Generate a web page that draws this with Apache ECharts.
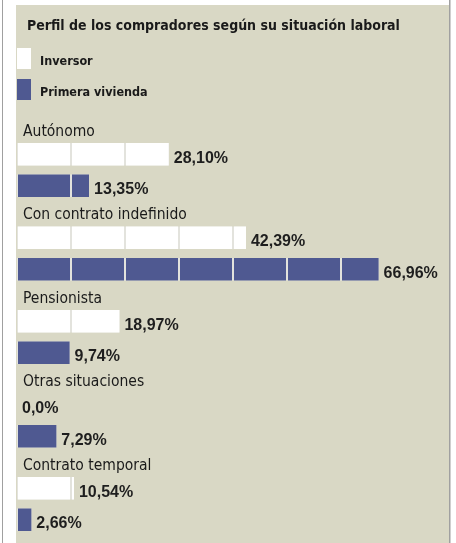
<!DOCTYPE html>
<html>
<head>
<meta charset="utf-8">
<style>
html,body{margin:0;padding:0;background:#ffffff;}
#chart{width:456px;height:543px;}
</style>
<script src="https://cdn.jsdelivr.net/npm/echarts@6/dist/echarts.min.js"></script>
</head>
<body>
<div id="chart"></div>
<script>
// ---- data ----
var titleText = 'Perfil de los compradores según su situación laboral';
var categories = ['Autónomo', 'Con contrato indefinido', 'Pensionista', 'Otras situaciones', 'Contrato temporal'];
var seriesNames = ['Inversor', 'Primera vivienda'];
var inversorValues = [28.10, 42.39, 18.97, 0.0, 10.54];
var primeraValues = [13.35, 66.96, 9.74, 7.29, 2.66];
var inversorLabels = ['28,10%', '42,39%', '18,97%', '0,0%', '10,54%'];
var primeraLabels = ['13,35%', '66,96%', '9,74%', '7,29%', '2,66%'];
var axisMax = 80;
var segmentsInMax = 8;

var BG = '#d9d8c5';
var BLUE = '#4f5991';
var GAP = '#e3e3dd';
var NARROW = "'Liberation Sans Narrow','DejaVu Sans Condensed',sans-serif";
var WIDE = "'Liberation Sans','DejaVu Sans',sans-serif";

var chart = echarts.init(document.getElementById('chart'), null, {renderer: 'canvas'});

function baseSeries(name, values, labels) {
  return {
    name: name,
    type: 'bar',
    data: values,
    barWidth: 22.5,
    barGap: '40%',
    itemStyle: {color: GAP},
    label: {
      show: true,
      position: 'right',
      distance: 5,
      offset: [0, 4],
      fontFamily: WIDE,
      fontWeight: 'bold',
      fontSize: 16,
      color: '#1e1e1e',
      formatter: function (p) { return labels[p.dataIndex]; }
    },
    z: 2
  };
}

function segSeries(name, values, color) {
  return {
    name: name,
    type: 'pictorialBar',
    data: values,
    symbol: 'rect',
    symbolRepeat: segmentsInMax,
    symbolBoundingData: axisMax,
    symbolClip: true,
    symbolMargin: '1!',
    symbolSize: [52, 22.5],
    barWidth: 22.5,
    barGap: '40%',
    itemStyle: {color: color},
    label: {show: false},
    z: 3
  };
}

var option = {
  animation: false,
  backgroundColor: 'transparent',
  graphic: [
    {type: 'rect', shape: {x: 2, y: 0, width: 1, height: 543}, style: {fill: '#a0a0a0'}, silent: true, z: -10},
    {type: 'rect', shape: {x: 16, y: 5, width: 433, height: 538}, style: {fill: BG}, silent: true, z: -10},
    {type: 'rect', shape: {x: 449, y: 0, width: 1.5, height: 543}, style: {fill: '#a0a0a0'}, silent: true, z: -10}
  ],
  title: {
    text: titleText,
    left: 27,
    top: 19,
    padding: 0,
    textStyle: {fontFamily: NARROW, fontWeight: 'bold', fontSize: 14, color: '#1a1a1a'}
  },
  legend: {
    orient: 'vertical',
    left: 17,
    top: 48,
    padding: 0,
    itemWidth: 14,
    itemHeight: 21,
    itemGap: 10,
    data: [
      {name: seriesNames[0], icon: 'rect', itemStyle: {color: '#ffffff'}},
      {name: seriesNames[1], icon: 'rect', itemStyle: {color: BLUE}}
    ],
    formatter: function (n) { return '{n|' + n + '}'; },
    textStyle: {
      rich: {
        n: {fontFamily: NARROW, fontWeight: 'bold', fontSize: 12.5, color: '#1a1a1a', padding: [7, 0, 0, 4]}
      }
    }
  },
  grid: {left: 17, top: 128.25, width: 432, height: 417.5, containLabel: false, outerBoundsMode: 'none'},
  xAxis: {
    type: 'value', min: 0, max: axisMax,
    show: false
  },
  yAxis: {
    type: 'category',
    inverse: true,
    data: categories,
    axisLine: {show: false},
    axisTick: {show: false},
    splitLine: {show: false},
    axisLabel: {
      inside: true,
      interval: 0,
      showMinLabel: true,
      showMaxLabel: true,
      hideOverlap: false,
      margin: 6,
      align: 'left',
      verticalAlign: 'middle',
      formatter: function (v) { return '{t|' + v + '}\n{s|}'; },
      rich: {
        t: {fontFamily: NARROW, fontSize: 15.5, color: '#1a1a1a', lineHeight: 20, height: 20},
        s: {height: 77, lineHeight: 77}
      }
    }
  },
  series: [
    baseSeries(seriesNames[0], inversorValues, inversorLabels),
    baseSeries(seriesNames[1], primeraValues, primeraLabels),
    segSeries(seriesNames[0], inversorValues, '#ffffff'),
    segSeries(seriesNames[1], primeraValues, BLUE)
  ]
};
chart.setOption(option);
</script>
</body>
</html>
